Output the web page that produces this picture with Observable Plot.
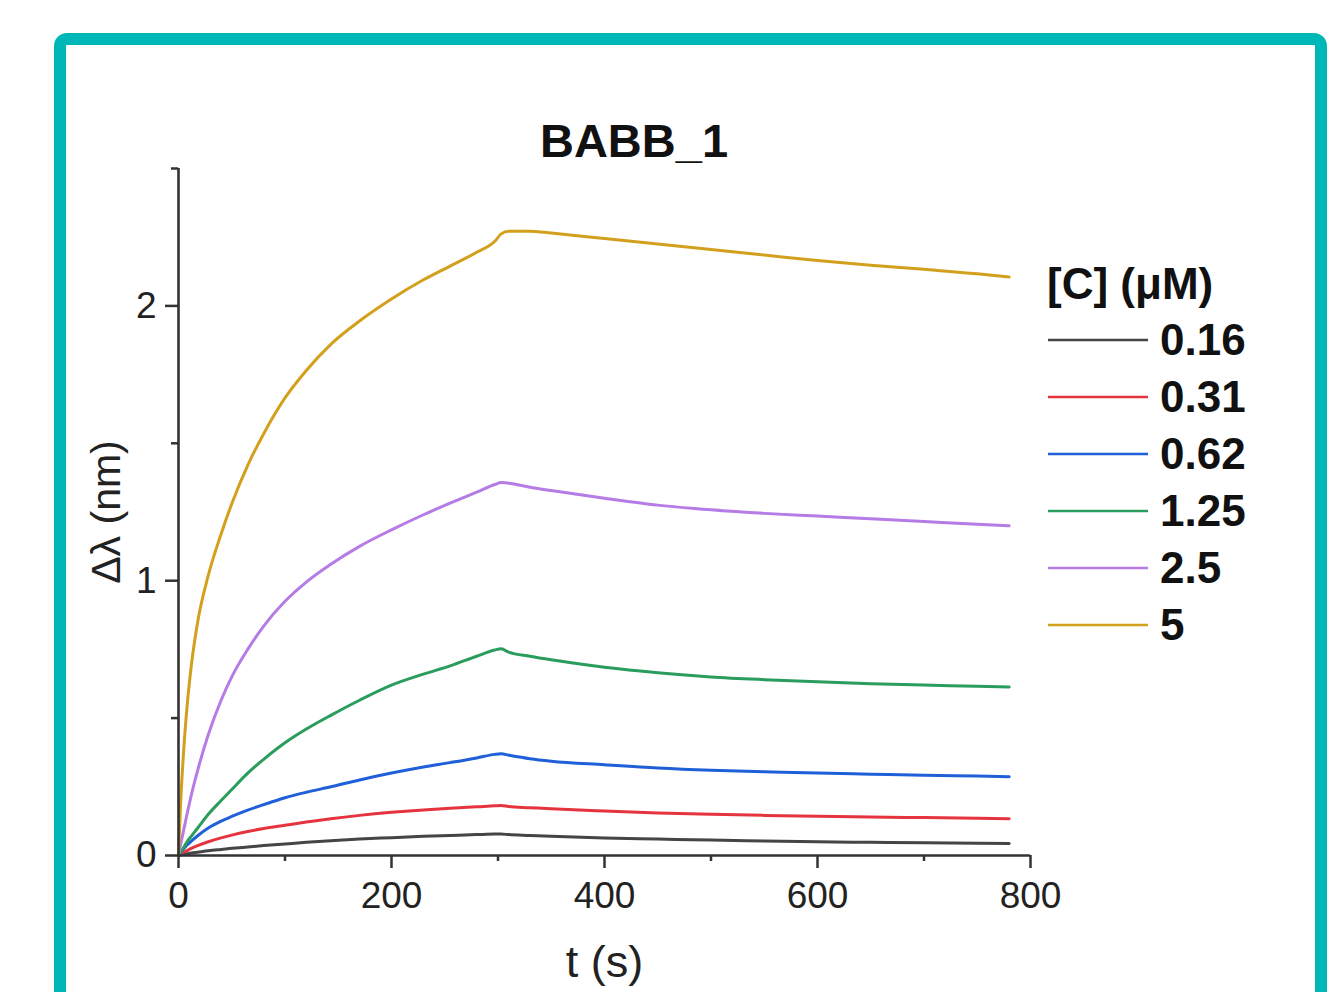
<!DOCTYPE html>
<html>
<head>
<meta charset="utf-8">
<script src="https://cdn.jsdelivr.net/npm/d3@7"></script>
<script src="https://cdn.jsdelivr.net/npm/@observablehq/plot@0.6"></script>
<style>
  html, body { margin: 0; padding: 0; background: #fff; }
  #wrap { position: relative; width: 1337px; height: 992px; overflow: hidden; font-family: "Liberation Sans", Arial, sans-serif; }
  #overlay { position: absolute; left: 0; top: 0; pointer-events: none; }
</style>
</head>
<body>
<div id="wrap"></div>
<script>
// ---- data ----
const title = "BABB_1";
const legendTitle = "[C] (\u03bcM)";
const concentrations = ["0.16", "0.31", "0.62", "1.25", "2.5", "5"];
const colors = ["#454545", "#e5343e", "#1f5fd8", "#2a9c5c", "#b57ce6", "#d2a01c"];
const xTicks = [0, 200, 400, 600, 800];
const xMinorTicks = [100, 300, 500, 700];
const yTicks = [0, 1, 2];
const yMinorTicks = [0.5, 1.5, 2.5];
const xLabel = "t (s)";
const yLabel = "\u0394\u03bb (nm)";

const times = [0, 2, 5, 8, 12, 18, 28, 40, 50, 65, 80, 100, 120, 143, 170, 200, 230, 255, 280, 297,
               303, 310, 330, 350, 400, 450, 500, 550, 600, 650, 700, 750, 780];

const c016 = [0, 0.002, 0.004, 0.006, 0.009, 0.012, 0.017, 0.022, 0.026, 0.031, 0.036, 0.042, 0.048, 0.054, 0.060, 0.065, 0.070, 0.073, 0.076, 0.078,
              0.078, 0.076, 0.073, 0.070, 0.064, 0.060, 0.056, 0.053, 0.050, 0.048, 0.046, 0.045, 0.044];
const c031 = [0, 0.005, 0.012, 0.018, 0.026, 0.036, 0.050, 0.064, 0.074, 0.087, 0.098, 0.110, 0.122, 0.134, 0.146, 0.157, 0.166, 0.172, 0.177, 0.181,
              0.182, 0.178, 0.174, 0.170, 0.162, 0.155, 0.150, 0.146, 0.143, 0.140, 0.138, 0.136, 0.134];
const c062 = [0, 0.010, 0.025, 0.038, 0.052, 0.072, 0.100, 0.125, 0.142, 0.165, 0.185, 0.210, 0.230, 0.250, 0.275, 0.300, 0.322, 0.338, 0.355, 0.368,
              0.370, 0.365, 0.352, 0.343, 0.330, 0.318, 0.310, 0.305, 0.300, 0.296, 0.292, 0.289, 0.287];
const c125 = [0, 0.012, 0.030, 0.050, 0.070, 0.100, 0.150, 0.200, 0.240, 0.300, 0.350, 0.410, 0.460, 0.510, 0.565, 0.620, 0.660, 0.690, 0.725, 0.748,
              0.752, 0.740, 0.725, 0.712, 0.685, 0.665, 0.650, 0.640, 0.632, 0.625, 0.620, 0.616, 0.613];
const c25  = [0, 0.040, 0.095, 0.150, 0.220, 0.310, 0.440, 0.565, 0.650, 0.750, 0.835, 0.925, 0.995, 1.060, 1.125, 1.185, 1.240, 1.282, 1.322, 1.350,
              1.357, 1.355, 1.340, 1.328, 1.300, 1.275, 1.258, 1.245, 1.235, 1.225, 1.215, 1.205, 1.200];
const c5   = [0, 0.190, 0.390, 0.540, 0.690, 0.850, 1.020, 1.170, 1.280, 1.420, 1.535, 1.665, 1.765, 1.860, 1.945, 2.025, 2.095, 2.145, 2.195, 2.235,
              2.262, 2.272, 2.272, 2.265, 2.245, 2.225, 2.205, 2.185, 2.165, 2.148, 2.133, 2.117, 2.105];

const seriesValues = [c016, c031, c062, c125, c25, c5];

// long table for Plot
const rows = [];
concentrations.forEach((c, i) => {
  times.forEach((t, j) => rows.push({t, v: seriesValues[i][j], c}));
});

const W = 1337, H = 992;
const FONT = "'Liberation Sans', Arial, Helvetica, sans-serif";

const chart = Plot.plot({
  width: W,
  height: H,
  marginLeft: 178,
  marginRight: 307,
  marginTop: 168,
  marginBottom: 137,
  style: { fontFamily: FONT, color: "#222", background: "transparent", overflow: "visible" },
  x: { domain: [0, 800] },
  y: { domain: [0, 2.5] },
  color: { domain: concentrations, range: colors },
  marks: [
    Plot.line(rows, { x: "t", y: "v", z: "c", stroke: "c", strokeWidth: 3, curve: "monotone-x" }),
    Plot.ruleX([0], { y1: 0, y2: 2.5, stroke: "#333", strokeWidth: 2.6 }),
    Plot.ruleY([0], { x1: 0, x2: 800, stroke: "#333", strokeWidth: 2.6 }),
    Plot.axisY(yTicks, { tickSize: 13, tickPadding: 9, fontSize: 37, tickFormat: d3.format("d"), label: null, stroke: "#333", strokeWidth: 2.5, fill: "#222" }),
    Plot.axisY(yMinorTicks, { tickSize: 7, tickFormat: () => "", label: null, stroke: "#333", strokeWidth: 2.5 }),
    Plot.axisX(xTicks, { tickSize: 13, tickPadding: 13, fontSize: 37, tickFormat: d3.format("d"), label: null, stroke: "#333", strokeWidth: 2.5, fill: "#222" }),
    Plot.axisX(xMinorTicks, { tickSize: 6, tickFormat: () => "", label: null, stroke: "#333", strokeWidth: 2.5 }),
    Plot.text([yLabel], { frameAnchor: "left", dx: -72, rotate: -90, textAnchor: "middle", lineAnchor: "middle", fontSize: 41, fill: "#222" }),
    Plot.text([xLabel], { frameAnchor: "bottom", dy: 107, textAnchor: "middle", lineAnchor: "middle", fontSize: 45, fill: "#222" })
  ]
});

const wrap = document.getElementById("wrap");
wrap.appendChild(chart);

// overlay: frame, title, legend
const svg = d3.create("svg")
  .attr("id", "overlay")
  .attr("width", W).attr("height", H)
  .style("font-family", FONT);

svg.append("rect")
  .attr("x", 60).attr("y", 39)
  .attr("width", 1261).attr("height", 1000)
  .attr("rx", 7)
  .attr("fill", "none")
  .attr("stroke", "#00b7b7")
  .attr("stroke-width", 12);

svg.append("text")
  .attr("x", 634).attr("y", 157)
  .attr("text-anchor", "middle")
  .attr("font-size", 47).attr("font-weight", "bold")
  .attr("fill", "#111")
  .text(title);

const lg = svg.append("g");
lg.append("text")
  .attr("x", 1047).attr("y", 299)
  .attr("font-size", 44).attr("font-weight", "bold")
  .attr("fill", "#111")
  .text(legendTitle);

concentrations.forEach((c, i) => {
  const y = 340 + 57 * i;
  lg.append("line")
    .attr("x1", 1048).attr("x2", 1148)
    .attr("y1", y).attr("y2", y)
    .attr("stroke", colors[i]).attr("stroke-width", 2.5);
  lg.append("text")
    .attr("x", 1160).attr("y", y + 15)
    .attr("font-size", 44).attr("font-weight", "bold")
    .attr("fill", "#111")
    .text(c);
});

wrap.appendChild(svg.node());
</script>
</body>
</html>
